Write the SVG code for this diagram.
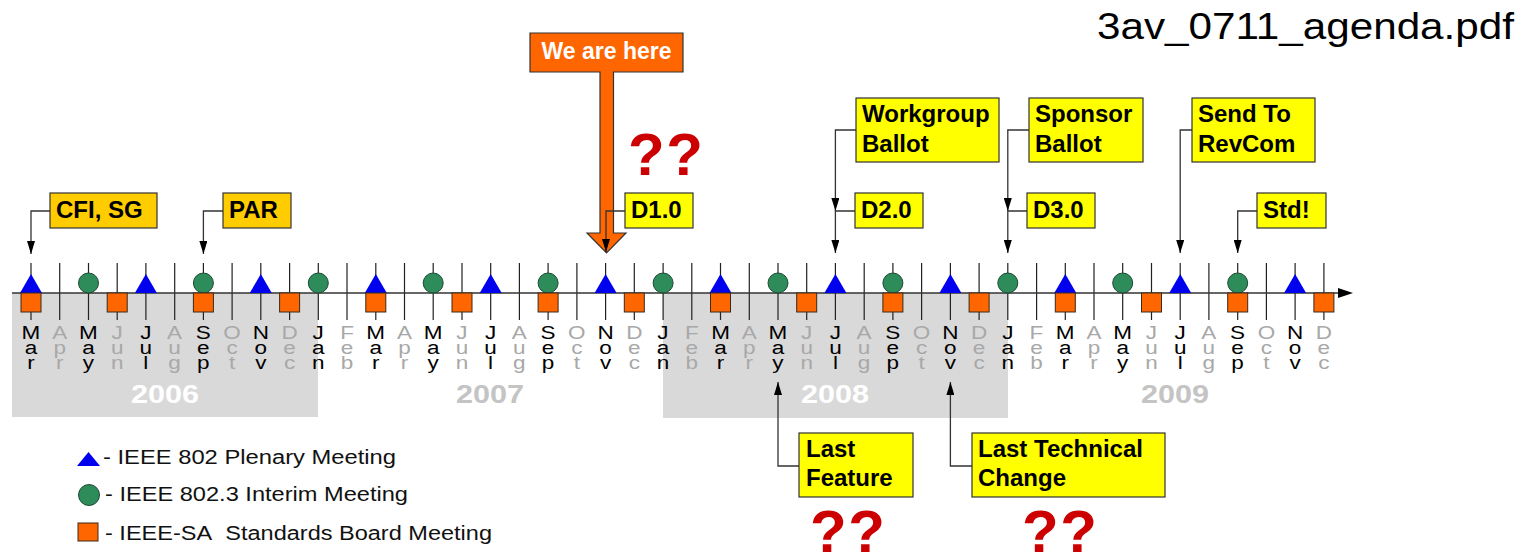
<svg xmlns="http://www.w3.org/2000/svg" xmlns:xlink="http://www.w3.org/1999/xlink" width="1537" height="555" viewBox="0 0 1537 555">
  <style>
    .box-gold { fill: #ffcc00; stroke: #333; stroke-width: 1.2; }
    .box-yel { fill: #ffff00; stroke: #333; stroke-width: 1.2; }
    .lbl { font-family: "Liberation Sans", Arial, sans-serif; font-weight: bold; font-size: 24px; fill: #000; }
    .conn { fill: none; stroke: #333; stroke-width: 1.3; }
    .tick { stroke: #222; stroke-width: 1.2; fill: none; }
    .mon { font-family: "Liberation Sans", Arial, sans-serif; font-size: 18px; text-anchor: middle; }
    .on { fill: #000; }
    .off { fill: #a8a8a8; }
    .yr { font-family: "Liberation Sans", Arial, sans-serif; font-weight: bold; font-size: 25px; text-anchor: middle; }
    .leg { font-family: "Liberation Sans", Arial, sans-serif; font-size: 20px; fill: #111; }
    .qq { font-family: "Liberation Sans", Arial, sans-serif; font-weight: bold; font-size: 60px; fill: #cc0000; letter-spacing: 1.5px; }
  </style>
  <defs>
    <marker id="arr" viewBox="0 0 13 8" refX="13" refY="4" markerWidth="13" markerHeight="8" markerUnits="userSpaceOnUse" orient="auto">
      <path d="M0,0 L13,4 L0,8 Z" fill="#000"/>
    </marker>
    <path id="tri" d="M-11,293 L11,293 L0,274 Z" fill="#0000ee"/>
    <circle id="cir" cx="0" cy="283" r="10" fill="#2e8b5a" stroke="#1d4a33" stroke-width="1"/>
    <rect id="sq" x="-10" y="293" width="20" height="19" fill="#ff6600" stroke="#3a2a1a" stroke-width="1"/>
  </defs>

  <rect width="1537" height="555" fill="#fff"/>

  <!-- file name -->
  <text x="1097" y="39" font-family="Liberation Sans, Arial, sans-serif" font-size="36" fill="#000" textLength="417" lengthAdjust="spacingAndGlyphs">3av_0711_agenda.pdf</text>

  <!-- shaded years -->
  <rect x="12" y="293" width="306" height="124" fill="#d9d9d9"/>
  <rect x="663" y="293" width="345" height="125" fill="#d9d9d9"/>

  <!-- month ticks -->
  <path class="tick" d="M31,263V320 M59.7,263V320 M88.5,263V320 M117.2,263V320 M145.9,263V320 M174.7,263V320 M203.4,263V320 M232.1,263V320 M260.8,263V320 M289.6,263V320 M318.3,263V320 M347,263V320 M375.8,263V320 M404.5,263V320 M433.2,263V320 M462,263V320 M490.7,263V320 M519.4,263V320 M548.1,263V320 M576.9,263V320 M605.6,263V320 M634.3,263V320 M663.1,263V320 M691.8,263V320 M720.5,263V320 M749.3,263V320 M778,263V320 M806.7,263V320 M835.4,263V320 M864.2,263V320 M892.9,263V320 M921.6,263V320 M950.4,263V320 M979.1,263V320 M1007.8,263V320 M1036.6,263V320 M1065.3,263V320 M1094,263V320 M1122.7,263V320 M1151.5,263V320 M1180.2,263V320 M1208.9,263V320 M1237.7,263V320 M1266.4,263V320 M1295.1,263V320 M1323.9,263V320"/>

  <!-- time axis -->
  <line x1="12" y1="293" x2="1340" y2="293" stroke="#333" stroke-width="1.5"/>
  <path d="M1338,288 L1353,293 L1338,298 Z" fill="#000"/>

  <!-- plenary meetings -->
  <g id="plenary">
    <use xlink:href="#tri" x="31"/><use xlink:href="#tri" x="145.9"/><use xlink:href="#tri" x="260.8"/>
    <use xlink:href="#tri" x="375.8"/><use xlink:href="#tri" x="490.7"/><use xlink:href="#tri" x="605.6"/>
    <use xlink:href="#tri" x="720.5"/><use xlink:href="#tri" x="835.4"/><use xlink:href="#tri" x="950.4"/>
    <use xlink:href="#tri" x="1065.3"/><use xlink:href="#tri" x="1180.2"/><use xlink:href="#tri" x="1295.1"/>
  </g>
  <!-- interim meetings -->
  <g id="interim">
    <use xlink:href="#cir" x="88.5"/><use xlink:href="#cir" x="203.4"/><use xlink:href="#cir" x="318.3"/>
    <use xlink:href="#cir" x="433.2"/><use xlink:href="#cir" x="548.1"/><use xlink:href="#cir" x="663.1"/>
    <use xlink:href="#cir" x="778"/><use xlink:href="#cir" x="892.9"/><use xlink:href="#cir" x="1007.8"/>
    <use xlink:href="#cir" x="1122.7"/><use xlink:href="#cir" x="1237.7"/>
  </g>
  <!-- standards board meetings -->
  <g id="board">
    <use xlink:href="#sq" x="31"/><use xlink:href="#sq" x="117.2"/><use xlink:href="#sq" x="203.4"/>
    <use xlink:href="#sq" x="289.6"/><use xlink:href="#sq" x="375.8"/><use xlink:href="#sq" x="462"/>
    <use xlink:href="#sq" x="548.1"/><use xlink:href="#sq" x="634.3"/><use xlink:href="#sq" x="720.5"/>
    <use xlink:href="#sq" x="806.7"/><use xlink:href="#sq" x="892.9"/><use xlink:href="#sq" x="979.1"/>
    <use xlink:href="#sq" x="1065.3"/><use xlink:href="#sq" x="1151.5"/><use xlink:href="#sq" x="1237.7"/>
    <use xlink:href="#sq" x="1323.9"/>
  </g>

  <!-- month names, written vertically (x values divided by the 1.25 stretch) -->
  <g id="months" transform="scale(1.25 1)">
    <text class="mon on" x="24.8" y="339">M<tspan x="24.8" y="354">a</tspan><tspan x="24.8" y="369">r</tspan></text>
    <text class="mon off" x="47.8" y="339">A<tspan x="47.8" y="354">p</tspan><tspan x="47.8" y="369">r</tspan></text>
    <text class="mon on" x="70.8" y="339">M<tspan x="70.8" y="354">a</tspan><tspan x="70.8" y="369">y</tspan></text>
    <text class="mon off" x="93.8" y="339">J<tspan x="93.8" y="354">u</tspan><tspan x="93.8" y="369">n</tspan></text>
    <text class="mon on" x="116.7" y="339">J<tspan x="116.7" y="354">u</tspan><tspan x="116.7" y="369">l</tspan></text>
    <text class="mon off" x="139.7" y="339">A<tspan x="139.7" y="354">u</tspan><tspan x="139.7" y="369">g</tspan></text>
    <text class="mon on" x="162.7" y="339">S<tspan x="162.7" y="354">e</tspan><tspan x="162.7" y="369">p</tspan></text>
    <text class="mon off" x="185.7" y="339">O<tspan x="185.7" y="354">c</tspan><tspan x="185.7" y="369">t</tspan></text>
    <text class="mon on" x="208.7" y="339">N<tspan x="208.7" y="354">o</tspan><tspan x="208.7" y="369">v</tspan></text>
    <text class="mon off" x="231.7" y="339">D<tspan x="231.7" y="354">e</tspan><tspan x="231.7" y="369">c</tspan></text>
    <text class="mon on" x="254.6" y="339">J<tspan x="254.6" y="354">a</tspan><tspan x="254.6" y="369">n</tspan></text>
    <text class="mon off" x="277.6" y="339">F<tspan x="277.6" y="354">e</tspan><tspan x="277.6" y="369">b</tspan></text>

    <text class="mon on" x="300.6" y="339">M<tspan x="300.6" y="354">a</tspan><tspan x="300.6" y="369">r</tspan></text>
    <text class="mon off" x="323.6" y="339">A<tspan x="323.6" y="354">p</tspan><tspan x="323.6" y="369">r</tspan></text>
    <text class="mon on" x="346.6" y="339">M<tspan x="346.6" y="354">a</tspan><tspan x="346.6" y="369">y</tspan></text>
    <text class="mon off" x="369.6" y="339">J<tspan x="369.6" y="354">u</tspan><tspan x="369.6" y="369">n</tspan></text>
    <text class="mon on" x="392.5" y="339">J<tspan x="392.5" y="354">u</tspan><tspan x="392.5" y="369">l</tspan></text>
    <text class="mon off" x="415.5" y="339">A<tspan x="415.5" y="354">u</tspan><tspan x="415.5" y="369">g</tspan></text>
    <text class="mon on" x="438.5" y="339">S<tspan x="438.5" y="354">e</tspan><tspan x="438.5" y="369">p</tspan></text>
    <text class="mon off" x="461.5" y="339">O<tspan x="461.5" y="354">c</tspan><tspan x="461.5" y="369">t</tspan></text>
    <text class="mon on" x="484.5" y="339">N<tspan x="484.5" y="354">o</tspan><tspan x="484.5" y="369">v</tspan></text>
    <text class="mon off" x="507.5" y="339">D<tspan x="507.5" y="354">e</tspan><tspan x="507.5" y="369">c</tspan></text>
    <text class="mon on" x="530.4" y="339">J<tspan x="530.4" y="354">a</tspan><tspan x="530.4" y="369">n</tspan></text>
    <text class="mon off" x="553.4" y="339">F<tspan x="553.4" y="354">e</tspan><tspan x="553.4" y="369">b</tspan></text>

    <text class="mon on" x="576.4" y="339">M<tspan x="576.4" y="354">a</tspan><tspan x="576.4" y="369">r</tspan></text>
    <text class="mon off" x="599.4" y="339">A<tspan x="599.4" y="354">p</tspan><tspan x="599.4" y="369">r</tspan></text>
    <text class="mon on" x="622.4" y="339">M<tspan x="622.4" y="354">a</tspan><tspan x="622.4" y="369">y</tspan></text>
    <text class="mon off" x="645.4" y="339">J<tspan x="645.4" y="354">u</tspan><tspan x="645.4" y="369">n</tspan></text>
    <text class="mon on" x="668.4" y="339">J<tspan x="668.4" y="354">u</tspan><tspan x="668.4" y="369">l</tspan></text>
    <text class="mon off" x="691.3" y="339">A<tspan x="691.3" y="354">u</tspan><tspan x="691.3" y="369">g</tspan></text>
    <text class="mon on" x="714.3" y="339">S<tspan x="714.3" y="354">e</tspan><tspan x="714.3" y="369">p</tspan></text>
    <text class="mon off" x="737.3" y="339">O<tspan x="737.3" y="354">c</tspan><tspan x="737.3" y="369">t</tspan></text>
    <text class="mon on" x="760.3" y="339">N<tspan x="760.3" y="354">o</tspan><tspan x="760.3" y="369">v</tspan></text>
    <text class="mon off" x="783.3" y="339">D<tspan x="783.3" y="354">e</tspan><tspan x="783.3" y="369">c</tspan></text>
    <text class="mon on" x="806.3" y="339">J<tspan x="806.3" y="354">a</tspan><tspan x="806.3" y="369">n</tspan></text>
    <text class="mon off" x="829.2" y="339">F<tspan x="829.2" y="354">e</tspan><tspan x="829.2" y="369">b</tspan></text>

    <text class="mon on" x="852.2" y="339">M<tspan x="852.2" y="354">a</tspan><tspan x="852.2" y="369">r</tspan></text>
    <text class="mon off" x="875.2" y="339">A<tspan x="875.2" y="354">p</tspan><tspan x="875.2" y="369">r</tspan></text>
    <text class="mon on" x="898.2" y="339">M<tspan x="898.2" y="354">a</tspan><tspan x="898.2" y="369">y</tspan></text>
    <text class="mon off" x="921.2" y="339">J<tspan x="921.2" y="354">u</tspan><tspan x="921.2" y="369">n</tspan></text>
    <text class="mon on" x="944.2" y="339">J<tspan x="944.2" y="354">u</tspan><tspan x="944.2" y="369">l</tspan></text>
    <text class="mon off" x="967.1" y="339">A<tspan x="967.1" y="354">u</tspan><tspan x="967.1" y="369">g</tspan></text>
    <text class="mon on" x="990.1" y="339">S<tspan x="990.1" y="354">e</tspan><tspan x="990.1" y="369">p</tspan></text>
    <text class="mon off" x="1013.1" y="339">O<tspan x="1013.1" y="354">c</tspan><tspan x="1013.1" y="369">t</tspan></text>
    <text class="mon on" x="1036.1" y="339">N<tspan x="1036.1" y="354">o</tspan><tspan x="1036.1" y="369">v</tspan></text>
    <text class="mon off" x="1059.1" y="339">D<tspan x="1059.1" y="354">e</tspan><tspan x="1059.1" y="369">c</tspan></text>
  </g>

  <!-- year captions -->
  <text class="yr" x="165" y="403" fill="#fff" textLength="68" lengthAdjust="spacingAndGlyphs">2006</text>
  <text class="yr" x="490" y="403" fill="#c4c4c4" textLength="68" lengthAdjust="spacingAndGlyphs">2007</text>
  <text class="yr" x="835" y="403" fill="#fff" textLength="68" lengthAdjust="spacingAndGlyphs">2008</text>
  <text class="yr" x="1175" y="403" fill="#c4c4c4" textLength="68" lengthAdjust="spacingAndGlyphs">2009</text>

  <!-- "We are here" pointer -->
  <g id="we-are-here">
    <path d="M530,33 H683 V72 H613.5 V233 H626 L606.5,253 L587,233 H600 V72 H530 Z" fill="#ff6600" stroke="#333" stroke-width="1.2"/>
    <text x="606.5" y="59" font-family="Liberation Sans, Arial, sans-serif" font-weight="bold" font-size="23" fill="#fff" text-anchor="middle">We are here</text>
  </g>

  <!-- connectors -->
  <g id="connectors">
    <path class="conn" d="M50,211 H31 V254" marker-end="url(#arr)"/>
    <path class="conn" d="M223,211 H203.4 V254" marker-end="url(#arr)"/>
    <path class="conn" d="M625,211 H606 V252" marker-end="url(#arr)"/>
    <path class="conn" d="M856,130 H835.4 V211" marker-end="url(#arr)"/>
    <path class="conn" d="M855,211 H835.4 V253" marker-end="url(#arr)"/>
    <path class="conn" d="M1029,130 H1007.8 V211" marker-end="url(#arr)"/>
    <path class="conn" d="M1027,211 H1007.8 V253" marker-end="url(#arr)"/>
    <path class="conn" d="M1192,130 H1180.2 V253" marker-end="url(#arr)"/>
    <path class="conn" d="M1257,211 H1237.7 V253" marker-end="url(#arr)"/>
    <path class="conn" d="M799,466 H778 V382" marker-end="url(#arr)"/>
    <path class="conn" d="M972,466 H950.4 V382" marker-end="url(#arr)"/>
  </g>

  <!-- milestone callouts -->
  <g id="cfi-sg">
    <rect class="box-gold" x="50" y="193" width="107" height="35"/>
    <text class="lbl" x="56" y="218">CFI, SG</text>
  </g>
  <g id="par">
    <rect class="box-gold" x="223" y="193" width="68" height="35"/>
    <text class="lbl" x="229" y="218">PAR</text>
  </g>
  <g id="d1">
    <rect class="box-yel" x="625" y="193" width="68" height="35"/>
    <text class="lbl" x="631" y="218">D1.0</text>
  </g>
  <g id="wg-ballot">
    <rect class="box-yel" x="856" y="98" width="143" height="64"/>
    <text class="lbl" x="862" y="122">Workgroup</text>
    <text class="lbl" x="862" y="152">Ballot</text>
  </g>
  <g id="d2">
    <rect class="box-yel" x="855" y="193" width="68" height="35"/>
    <text class="lbl" x="861" y="218">D2.0</text>
  </g>
  <g id="sponsor-ballot">
    <rect class="box-yel" x="1029" y="98" width="114" height="64"/>
    <text class="lbl" x="1035" y="122">Sponsor</text>
    <text class="lbl" x="1035" y="152">Ballot</text>
  </g>
  <g id="d3">
    <rect class="box-yel" x="1027" y="193" width="68" height="35"/>
    <text class="lbl" x="1033" y="218">D3.0</text>
  </g>
  <g id="revcom">
    <rect class="box-yel" x="1192" y="98" width="123" height="64"/>
    <text class="lbl" x="1198" y="122">Send To</text>
    <text class="lbl" x="1198" y="152">RevCom</text>
  </g>
  <g id="std">
    <rect class="box-yel" x="1257" y="193" width="69" height="35"/>
    <text class="lbl" x="1263" y="218">Std!</text>
  </g>
  <g id="last-feature">
    <rect class="box-yel" x="799" y="433" width="114" height="64"/>
    <text class="lbl" x="806" y="457">Last</text>
    <text class="lbl" x="806" y="486">Feature</text>
  </g>
  <g id="last-tech-change">
    <rect class="box-yel" x="972" y="433" width="193" height="64"/>
    <text class="lbl" x="978" y="457">Last Technical</text>
    <text class="lbl" x="978" y="486">Change</text>
  </g>

  <!-- open questions -->
  <text class="qq" x="628" y="175">??</text>
  <text class="qq" x="810" y="552">??</text>
  <text class="qq" x="1022" y="552">??</text>

  <!-- legend -->
  <g id="legend">
    <path d="M77,466 L100,466 L88.5,452 Z" fill="#0000ee"/>
    <text class="leg" x="103" y="464" textLength="293" lengthAdjust="spacingAndGlyphs">- IEEE 802 Plenary Meeting</text>
    <circle cx="89" cy="495" r="10.5" fill="#2e8b5a" stroke="#1d4a33" stroke-width="1"/>
    <text class="leg" x="105" y="501" textLength="303" lengthAdjust="spacingAndGlyphs">- IEEE 802.3 Interim Meeting</text>
    <rect x="78" y="523" width="20" height="18" fill="#ff6600" stroke="#3a2a1a" stroke-width="1"/>
    <text class="leg" x="105" y="540" textLength="387" lengthAdjust="spacingAndGlyphs">- IEEE-SA&#160; Standards Board Meeting</text>
  </g>
</svg>
